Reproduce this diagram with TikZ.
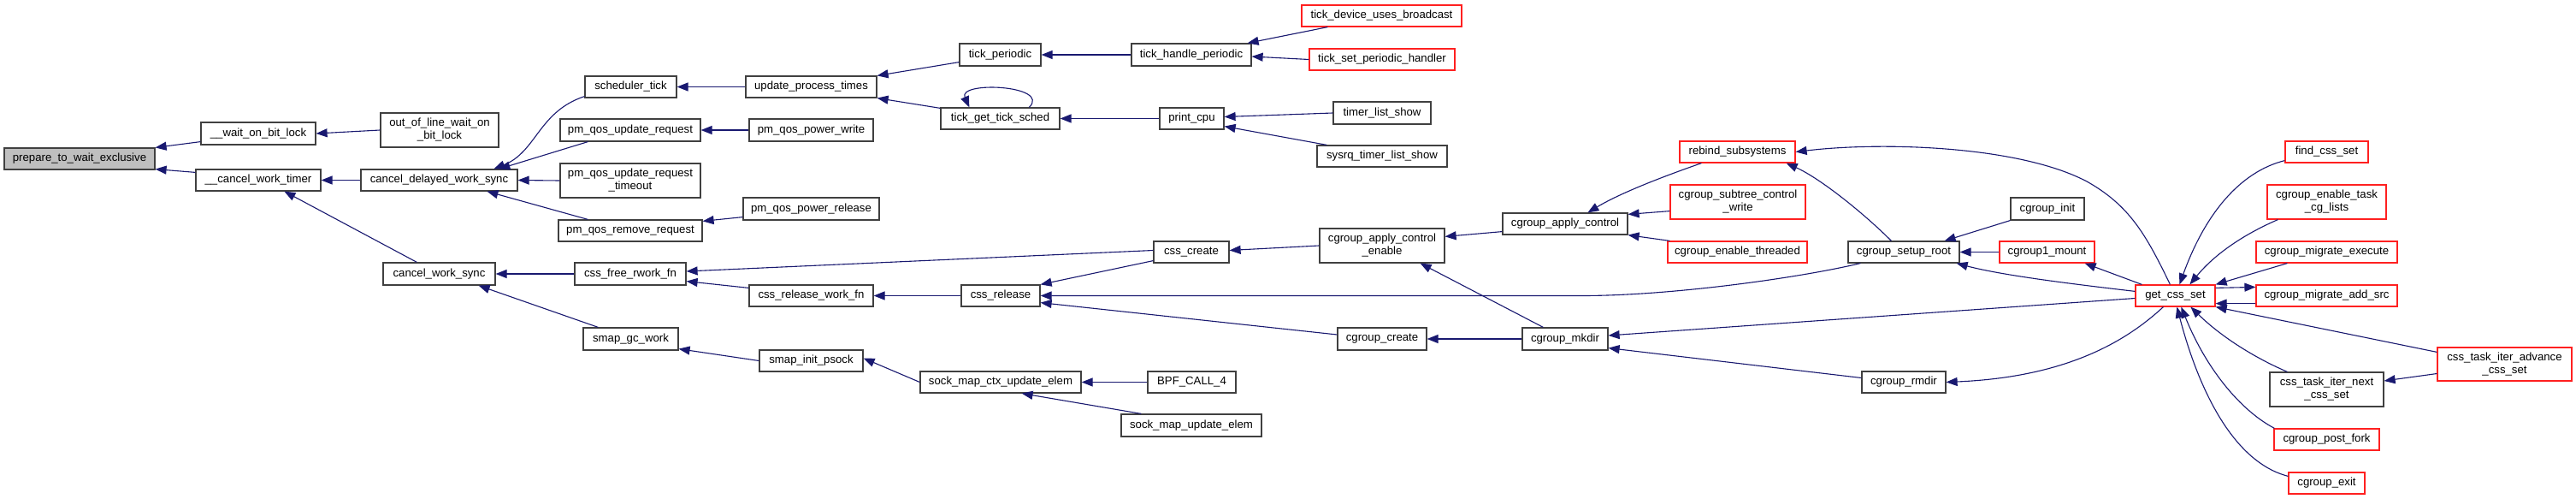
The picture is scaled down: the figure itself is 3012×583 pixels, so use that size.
\documentclass[tikz,border=0pt]{standalone}
\usepackage{fontspec}
\setmainfont{Liberation Sans}
\usetikzlibrary{arrows.meta,calc}
\definecolor{edgec}{HTML}{191970}
\definecolor{redb}{HTML}{FF2020}
\definecolor{blkb}{HTML}{404040}
\definecolor{rootf}{HTML}{BFBFBF}
\tikzset{
 nb/.style={draw=blkb, line width=1.2pt, fill=white, rectangle, inner sep=0pt, align=center, font=\fontsize{13.2}{15}\selectfont},
 rb/.style={nb, draw=redb},
 rootbox/.style={nb, fill=rootf},
 callarrow/.style={draw=edgec, line width=1.1pt, -{Triangle[length=13pt,width=10pt]}}
}
\newcommand\gnode[7][nb]{\node[#1, minimum width={(#5-#3)*1pt}, minimum height={(#6-#4)*1pt}] (#2) at ({(#3+#5)/2},{(#4+#6)/2}) {#7};}
\begin{document}
\begin{tikzpicture}[x=1pt,y=-1pt]
\fill[white] (0,0) rectangle (3012,583);
\useasboundingbox (0,0) rectangle (3012,583);
% nodes
\gnode[rootbox]{root}{5}{173}{181}{198}{prepare\_to\_wait\_exclusive}
\gnode{wob}{235}{143}{369}{169}{\_\_wait\_on\_bit\_lock}
\gnode{cwt}{229}{198}{375}{223}{\_\_cancel\_work\_timer}
\gnode{oolw}{445}{132}{583}{172}{out\_of\_line\_wait\_on\\\_bit\_lock}
\gnode{cdws}{422}{198}{605}{223}{cancel\_delayed\_work\_sync}
\gnode{cws}{448}{307}{579}{333}{cancel\_work\_sync}
\gnode{st}{684}{89}{791}{114}{scheduler\_tick}
\gnode{pqur}{655}{139}{819}{165}{pm\_qos\_update\_request}
\gnode{pqurt}{655}{191}{819}{231}{pm\_qos\_update\_request\\\_timeout}
\gnode{pqrr}{653}{257}{821}{282}{pm\_qos\_remove\_request}
\gnode{upt}{872}{89}{1025}{114}{update\_process\_times}
\gnode{pqpw}{876}{139}{1021}{165}{pm\_qos\_power\_write}
\gnode{pqpr}{869}{231}{1028}{257}{pm\_qos\_power\_release}
\gnode{cfrf}{672}{307}{802}{333}{css\_free\_rwork\_fn}
\gnode{crwf}{876}{333}{1021}{358}{css\_release\_work\_fn}
\gnode{sgw}{682}{383}{793}{409}{smap\_gc\_work}
\gnode{sip}{888}{409}{1009}{434}{smap\_init\_psock}
\gnode{tp}{1122}{51}{1217}{77}{tick\_periodic}
\gnode{thp}{1323}{51}{1463}{77}{tick\_handle\_periodic}
\gnode{tgts}{1100}{126}{1239}{151}{tick\_get\_tick\_sched}
\gnode{pc}{1356}{126}{1431}{151}{print\_cpu}
\gnode{cc}{1349}{282}{1437}{307}{css\_create}
\gnode{cr}{1124}{333}{1216}{358}{css\_release}
\gnode{smcue}{1076}{434}{1264}{459}{sock\_map\_ctx\_update\_elem}
\gnode{bpf}{1342}{434}{1445}{459}{BPF\_CALL\_4}
\gnode{smue}{1311}{484}{1475}{510}{sock\_map\_update\_elem}
\gnode[rb]{tdub}{1522}{6}{1709}{31}{tick\_device\_uses\_broadcast}
\gnode[rb]{tsph}{1531}{57}{1701}{82}{tick\_set\_periodic\_handler}
\gnode{tls}{1559}{119}{1673}{145}{timer\_list\_show}
\gnode{stls}{1540}{170}{1692}{195}{sysrq\_timer\_list\_show}
\gnode{cac}{1757}{249}{1903}{274}{cgroup\_apply\_control}
\gnode{cace}{1543}{267}{1689}{307}{cgroup\_apply\_control\\\_enable}
\gnode[rb]{rs}{1964}{165}{2099}{190}{rebind\_subsystems}
\gnode[rb]{cscw}{1953}{216}{2111}{256}{cgroup\_subtree\_control\\\_write}
\gnode[rb]{cet}{1950}{282}{2113}{307}{cgroup\_enable\_threaded}
\gnode{ccr}{1564}{383}{1668}{409}{cgroup\_create}
\gnode{cmk}{1780}{383}{1880}{409}{cgroup\_mkdir}
\gnode{ci}{2351}{231}{2437}{257}{cgroup\_init}
\gnode{csr}{2161}{282}{2291}{307}{cgroup\_setup\_root}
\gnode[rb]{c1m}{2338}{282}{2449}{307}{cgroup1\_mount}
\gnode[rb]{gcs}{2497}{333}{2590}{358}{get\_css\_set}
\gnode{crm}{2177}{434}{2275}{459}{cgroup\_rmdir}
\gnode[rb]{fcs}{2672}{165}{2769}{190}{find\_css\_set}
\gnode[rb]{cetcl}{2651}{216}{2790}{256}{cgroup\_enable\_task\\\_cg\_lists}
\gnode[rb]{cme}{2638}{282}{2803}{307}{cgroup\_migrate\_execute}
\gnode[rb]{cmas}{2638}{333}{2803}{358}{cgroup\_migrate\_add\_src}
\gnode[rb]{ctia}{2850}{406}{3007}{445}{css\_task\_iter\_advance\\\_css\_set}
\gnode{ctin}{2654}{435}{2787}{475}{css\_task\_iter\_next\\\_css\_set}
\gnode[rb]{cpf}{2659}{501}{2782}{526}{cgroup\_post\_fork}
\gnode[rb]{cex}{2676}{552}{2765}{577}{cgroup\_exit}
% edges (caller -> callee)
\draw[callarrow] ([yshift=4pt]wob.south west) -- (root.north east);
\draw[callarrow] ([yshift=-4pt]cwt.north west) -- ([yshift=1pt]root.south east);
\draw[callarrow] (oolw.west) -- (wob.east);
\draw[callarrow] (cdws.west) -- (cwt.east);
\draw[callarrow] ([xshift=40pt]cws.north west) -- ([xshift=104pt]cwt.south west);
\draw[callarrow] ([yshift=2pt]st.south west) .. controls +(-54,18) and +(50,-20) .. ([xshift=156pt]cdws.north west);
\draw[callarrow] ([xshift=33pt]pqur.south west) -- ([xshift=162pt]cdws.north west);
\draw[callarrow] (pqurt.west) -- (cdws.east);
\draw[callarrow] ([xshift=35pt]pqrr.north west) -- ([xshift=148pt]cdws.south west);
\draw[callarrow] (upt.west) -- (st.east);
\draw[callarrow] (pqpw.west) -- (pqur.east);
\draw[callarrow] ([yshift=4pt]pqpr.south west) -- ([yshift=-2pt]pqrr.north east);
\draw[callarrow] ([yshift=5pt]tp.south west) -- (upt.north east);
\draw[callarrow] ([yshift=-1pt]tgts.north west) -- (upt.south east);
\draw[callarrow] ([xshift=104pt]tgts.north west) .. controls +(26,-26) and +(-14,-31) .. ([xshift=34pt]tgts.north west);
\draw[callarrow] (thp.west) -- (tp.east);
\draw[callarrow] ([xshift=31pt]tdub.south west) -- ([xshift=-5pt]thp.north east);
\draw[callarrow] (tsph.west) -- ([yshift=-2pt]thp.east);
\draw[callarrow] (pc.west) -- (tgts.east);
\draw[callarrow] (tls.west) -- ([yshift=2pt]pc.east);
\draw[callarrow] ([xshift=12pt]stls.north west) -- ([yshift=4pt]pc.south east);
\draw[callarrow] (cfrf.west) -- (cws.east);
\draw[callarrow] ([xshift=18pt]sgw.north west) -- ([xshift=-20pt]cws.south east);
\draw[callarrow] (sip.west) -- ([yshift=2pt]sgw.south east);
\draw[callarrow] ([yshift=2pt]cc.west) -- ([yshift=3pt]cfrf.east);
\draw[callarrow] ([yshift=-4pt]crwf.north west) -- ([yshift=5pt]cfrf.south east);
\draw[callarrow] (cr.west) -- (crwf.east);
\draw[callarrow] ([yshift=3pt]cc.south west) -- (cr.north east);
\draw[callarrow] ([xshift=15pt]csr.south west) .. controls +(-76,18) and +(100,0) .. ($(cr.east)+(634,0)$) -- (cr.east);
\draw[callarrow] ([yshift=5pt]ccr.west) -- ([yshift=5pt]cr.south east);
\draw[callarrow] (smcue.west) -- ([yshift=3pt]sip.east);
\draw[callarrow] (bpf.west) -- (smcue.east);
\draw[callarrow] ([xshift=24pt]smue.north west) -- ([xshift=-70pt]smcue.south east);
\draw[callarrow] (cace.west) -- ([yshift=2pt]cc.east);
\draw[callarrow] ([yshift=4pt]cac.south west) -- ([yshift=-10pt]cace.north east);
\draw[callarrow] ([xshift=25pt]cmk.north west) -- ([xshift=-29pt]cace.south east);
\draw[callarrow] (cmk.west) -- (ccr.east);
\draw[callarrow] ([xshift=26pt]rs.south west) .. controls +(-40,14) and +(40,-24) .. ([xshift=100pt]cac.north west);
\draw[callarrow] ([yshift=10pt]cscw.south west) -- ([yshift=-2pt]cac.north east);
\draw[callarrow] ([xshift=3pt]cet.north west) -- (cac.south east);
\draw[callarrow] ([xshift=51pt]csr.north west) .. controls +(-32,-32) and +(40,18) .. ([xshift=-11pt]rs.south east);
\draw[callarrow] ([xshift=41pt]gcs.north west) .. controls +(-28,-58) and +(50,28) .. (2440,212) .. controls +(-80,-42) and +(100,-12) .. (rs.east);
\draw[callarrow] (ci.south west) -- ([xshift=-18pt]csr.north east);
\draw[callarrow] (c1m.west) -- (csr.east);
\draw[callarrow] ([yshift=-8pt]gcs.north west) .. controls +(-77,-9) and +(53,14) .. ([xshift=-4pt]csr.south east);
\draw[callarrow] ([xshift=8pt]gcs.north west) -- ([xshift=-12pt]c1m.south east);
\draw[callarrow] ([yshift=-3pt]gcs.west) -- ([yshift=4pt]cmk.east);
\draw[callarrow] ([yshift=5pt]crm.west) -- ([yshift=3pt]cmk.south east);
\draw[callarrow] ([xshift=33pt]gcs.south west) .. controls +(-40,37) and +(145,-6) .. (crm.east);
\draw[callarrow] ([yshift=3pt]fcs.south west) .. controls +(-52,13) and +(30,-83) .. ([xshift=52pt]gcs.north west);
\draw[callarrow] ([xshift=13pt]cetcl.south west) .. controls +(-44,19) and +(27,-33) .. ([xshift=64pt]gcs.north west);
\draw[callarrow] ([xshift=37pt]cme.south west) -- (gcs.north east);
\draw[callarrow] ([yshift=4pt]cmas.south west) -- ([yshift=4pt]gcs.south east);
\draw[callarrow] ([yshift=-4pt]gcs.north east) -- ([yshift=-3pt]cmas.north west);
\draw[callarrow] ([yshift=-6pt]ctia.north west) -- (gcs.south east);
\draw[callarrow] ([xshift=21pt]ctin.north west) .. controls +(-35,-15) and +(38,37) .. ([xshift=65pt]gcs.south west);
\draw[callarrow] ([yshift=-11pt]ctia.west) -- ([yshift=10pt]ctin.east);
\draw[callarrow] ([xshift=1pt]cpf.north west) .. controls +(-40,-21) and +(29,72) .. ([xshift=54pt]gcs.south west);
\draw[callarrow] ([yshift=-5pt]cex.north west) .. controls +(-66,-17) and +(24,92) .. ([xshift=49pt]gcs.south west);
\end{tikzpicture}
\end{document}
